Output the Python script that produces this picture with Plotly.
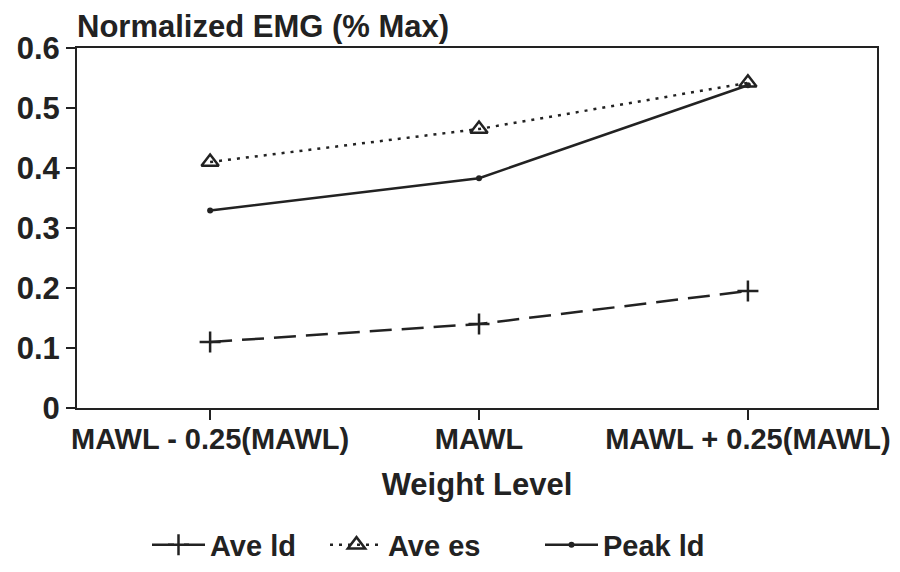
import plotly.graph_objects as go

categories = ["MAWL - 0.25(MAWL)", "MAWL", "MAWL + 0.25(MAWL)"]
ave_ld = [0.11, 0.14, 0.195]
ave_es = [0.41, 0.465, 0.542]
peak_ld = [0.329, 0.383, 0.538]
y_ticks = [0, 0.1, 0.2, 0.3, 0.4, 0.5, 0.6]
y_tick_labels = ["0", "0.1", "0.2", "0.3", "0.4", "0.5", "0.6"]

ink = "#222222"
font_family = "Liberation Sans, Arial, sans-serif"
xi = list(range(len(categories)))

# the page body has an 8px default margin, so the figure is 8px smaller
W, H = 892, 564


def bold(size):
    return dict(family=font_family, size=size, color=ink, weight="bold")


fig = go.Figure()
fig.add_trace(go.Scatter(
    x=xi, y=ave_ld, name="Ave ld", mode="lines+markers", legend="legend",
    line=dict(color=ink, width=2.5, dash="22px,10px"),
    marker=dict(symbol="cross-thin", size=15, line=dict(color=ink, width=2.5)),
))
fig.add_trace(go.Scatter(
    x=xi, y=ave_es, name="Ave es", mode="lines+markers", legend="legend2",
    line=dict(color=ink, width=2.5, dash="3px,6px"),
    marker=dict(symbol="triangle-up-open", size=15, color=ink, line=dict(color=ink, width=2.5)),
))
fig.add_trace(go.Scatter(
    x=xi, y=peak_ld, name="Peak ld", mode="lines+markers", legend="legend3",
    line=dict(color=ink, width=2.5),
    marker=dict(symbol="circle", size=6, color=ink),
))

legend_common = dict(orientation="h", xanchor="left", y=-0.38, yanchor="middle",
                     font=bold(29), itemwidth=53, bgcolor="rgba(0,0,0,0)")

fig.update_layout(
    width=W, height=H,
    margin=dict(l=69, r=23, t=40, b=164, autoexpand=False),
    paper_bgcolor="white", plot_bgcolor="white",
    font=bold(31),
    title=dict(text="Normalized EMG (% Max)", x=0, xref="paper", xanchor="left",
               y=1 - 18 / H, yref="container", yanchor="middle", font=bold(31)),
    showlegend=True,
    legend=dict(x=(147 - 77) / 800, **legend_common),
    legend2=dict(x=(325 - 77) / 800, **legend_common),
    legend3=dict(x=(540 - 77) / 800, **legend_common),
)
fig.update_xaxes(
    range=[-0.495, 2.48], tickvals=xi, ticktext=categories,
    showline=True, mirror=True, linecolor=ink, linewidth=2,
    ticks="outside", ticklen=10, tickwidth=2, tickcolor=ink,
    showgrid=False, zeroline=False, automargin=False,
    tickfont=bold(29), ticklabelstandoff=-6, ticklabeloverflow="allow",
    title=dict(text="Weight Level", standoff=20, font=bold(31)),
)
fig.update_yaxes(
    range=[0, 0.6], tickvals=y_ticks, ticktext=y_tick_labels,
    showline=True, mirror=True, linecolor=ink, linewidth=2,
    ticks="outside", ticklen=9, tickwidth=2, tickcolor=ink,
    showgrid=False, zeroline=False, automargin=False,
    tickfont=bold(31),
)

fig.write_html("out.html")
